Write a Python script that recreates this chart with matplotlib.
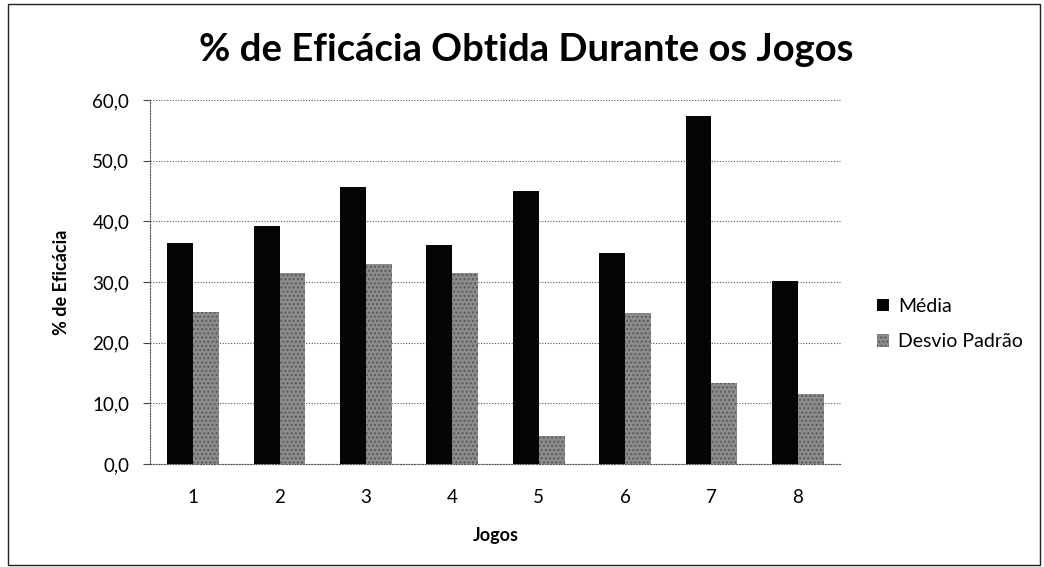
import matplotlib
matplotlib.use("Agg")
import matplotlib.pyplot as plt
import numpy as np
from matplotlib.patches import Rectangle

plt.rcParams['font.family'] = ['Lato', 'DejaVu Sans']

jogos = ['1', '2', '3', '4', '5', '6', '7', '8']
media = [36.5, 39.3, 45.7, 36.1, 45.0, 34.7, 57.4, 30.2]
desvio = [25.1, 31.5, 32.9, 31.5, 4.6, 24.9, 13.3, 11.6]
yticks = [0, 10, 20, 30, 40, 50, 60]

W, H = 1044, 567
fig = plt.figure(figsize=(W/100, H/100), dpi=100)
ax = fig.add_axes([150/W, 1 - 464/H, (841-150)/W, (464-100)/H])

x = np.arange(1, len(jogos) + 1)
w = 0.30
ax.bar(x - w/2, media, width=w, color='#050505', label='Média', zorder=3)
ax.bar(x + w/2, desvio, width=w, color='#8c8c8c', hatch='....', edgecolor='#5a5a5a',
       linewidth=0, label='Desvio Padrão', zorder=3)

ax.set_xlim(0.5, 8.5)
ax.set_ylim(0, 60)
ax.set_yticks(yticks)
ax.set_yticklabels([f"{v:.1f}".replace('.', ',') for v in yticks], fontsize=13.5)
ax.set_xticks(x)
ax.set_xticklabels(jogos, fontsize=13.5)
ax.tick_params(axis='x', length=0, pad=18)
ax.tick_params(axis='y', length=5, direction='out', color='#444444', pad=10)
ax.grid(axis='y', linestyle=(0, (1, 1.5)), color='#555555', linewidth=0.8, zorder=0)
for s in ['top', 'right']:
    ax.spines[s].set_visible(False)
for s in ['left', 'bottom']:
    ax.spines[s].set_linestyle((0, (1, 1.5)))
    ax.spines[s].set_color('#555555')
    ax.spines[s].set_linewidth(0.8)

ax.set_xlabel('Jogos', fontsize=13, fontweight='bold', labelpad=15)
ax.set_ylabel('% de Eficácia', fontsize=13, fontweight='bold', labelpad=16)

fig.text(526/W, 1 - 50/H, '% de Eficácia Obtida Durante os Jogos', ha='center', va='center',
         fontsize=27.5, fontweight='bold')

handles, labels = ax.get_legend_handles_labels()
fig.legend(handles, labels, loc='center left', bbox_to_anchor=(877/W, 1 - 324/H),
           frameon=False, fontsize=14, borderpad=0, borderaxespad=0,
           handlelength=0.62, handleheight=0.62, handletextpad=0.45, labelspacing=0.95)

fig.add_artist(Rectangle((8/W, 2/H), 1 - 12/W, 1 - 6/H, transform=fig.transFigure,
                         fill=False, edgecolor='#222222', linewidth=1))

fig.savefig('out.png', dpi=100)
